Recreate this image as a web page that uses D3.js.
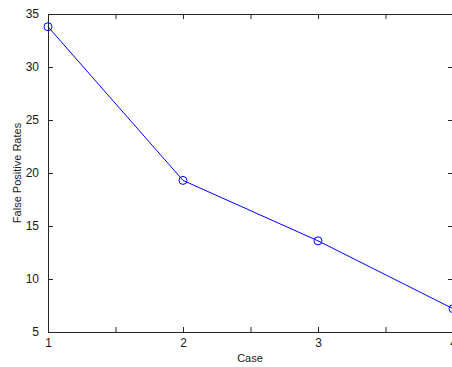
<!DOCTYPE html>
<html><head><meta charset="utf-8">
<script src="https://cdn.jsdelivr.net/npm/d3@7"></script>
<style>body{margin:0;background:#fff}svg{display:block}text{font-family:"Liberation Sans",Arial,sans-serif}</style>
</head><body>
<script>
const cases = [1, 2, 3, 4];
const fpr = [33.8, 19.3, 13.6, 7.2];
const xTicks = [1, 1.5, 2, 2.5, 3, 3.5, 4];
const yTicks = [5, 10, 15, 20, 25, 30, 35];

const W = 452, H = 367;
const L = 48, R = 453, T = 14, B = 332;
const svg = d3.select("body").append("svg").attr("width", W).attr("height", H);
const x = d3.scaleLinear().domain([1, 4]).range([L, R]);
const y = d3.scaleLinear().domain([5, 35]).range([B, T]);
const tl = 5;
const col = "#262626";

// box
svg.append("rect").attr("x", L).attr("y", T).attr("width", R - L).attr("height", B - T)
  .attr("fill", "none").attr("stroke", col).attr("stroke-width", 1).attr("shape-rendering", "crispEdges");

// x axis (bottom) ticks inward
const xb = svg.append("g").attr("transform", `translate(0,${B})`)
  .call(d3.axisBottom(x).tickValues(xTicks).tickSizeInner(-tl).tickSizeOuter(0).tickPadding(6)
    .tickFormat(d => Number.isInteger(d) ? d3.format("d")(d) : ""));
xb.select(".domain").remove();
const xt = svg.append("g").attr("transform", `translate(0,${T})`)
  .call(d3.axisTop(x).tickValues(xTicks).tickSizeInner(-tl).tickSizeOuter(0).tickFormat(""));
xt.select(".domain").remove();

const yl = svg.append("g").attr("transform", `translate(${L},0)`)
  .call(d3.axisLeft(y).tickValues(yTicks).tickSizeInner(-tl).tickSizeOuter(0).tickPadding(9));
yl.select(".domain").remove();
const yr = svg.append("g").attr("transform", `translate(${R},0)`)
  .call(d3.axisRight(y).tickValues(yTicks).tickSizeInner(-tl).tickSizeOuter(0).tickFormat(""));
yr.select(".domain").remove();

svg.selectAll(".tick line").attr("stroke", col);
svg.selectAll(".tick text").attr("fill", "#1a1a1a").style("font-size", "12px")
  .style("font-family", '"Liberation Sans",Arial,sans-serif');
xb.selectAll(".tick text").attr("dy", "0.71em");

// labels
svg.append("text").attr("x", 250).attr("y", 362).attr("text-anchor", "middle")
  .style("font-size", "11px").attr("fill", "#1a1a1a").text("Case");
svg.append("text").attr("transform", `translate(21,${(T + B) / 2}) rotate(-90)`).attr("text-anchor", "middle")
  .style("font-size", "11px").attr("fill", "#1a1a1a").text("False Positive Rates");

// line
const data = cases.map((c, i) => ({c, v: fpr[i]}));
svg.append("path").datum(data)
  .attr("d", d3.line().x(d => x(d.c)).y(d => y(d.v)))
  .attr("fill", "none").attr("stroke", "#0000ff").attr("stroke-width", 1);
svg.selectAll("circle.m").data(data).join("circle").attr("class", "m")
  .attr("cx", d => x(d.c)).attr("cy", d => y(d.v)).attr("r", 4)
  .attr("fill", "none").attr("stroke", "#0000ff").attr("stroke-width", 1);
</script>
</body></html>
